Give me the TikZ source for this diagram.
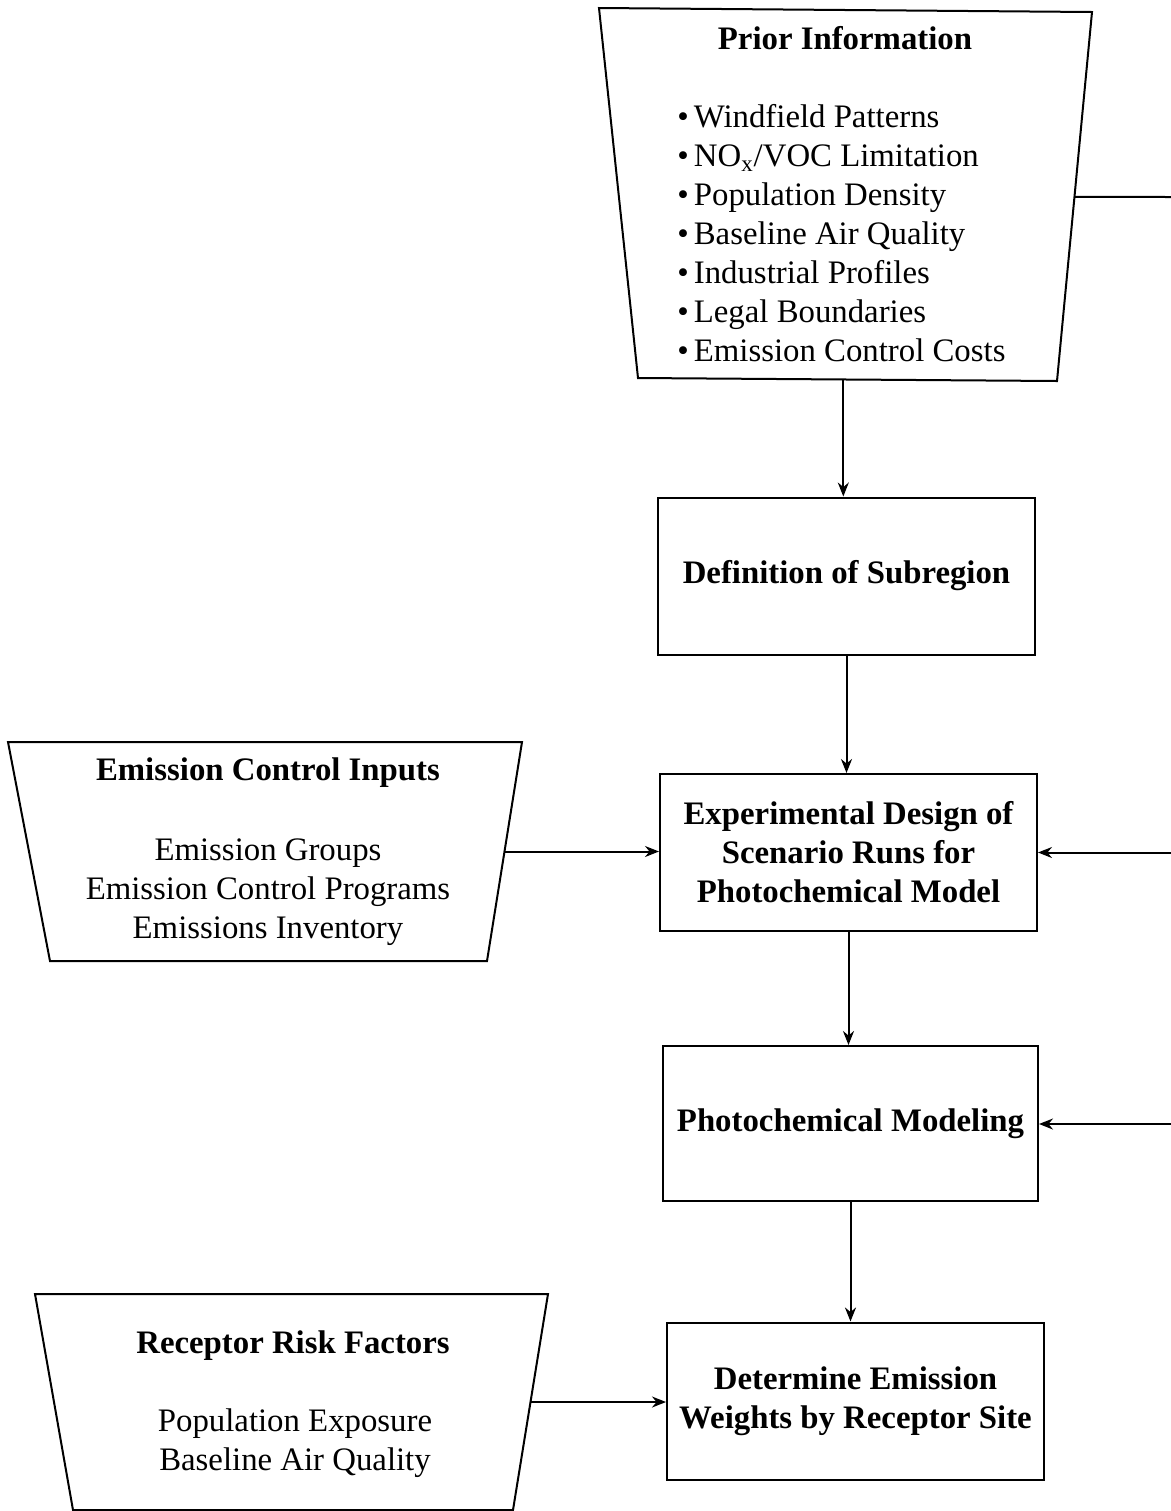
\documentclass[tikz,border=0pt]{standalone}
\usepackage{fontspec}
\setmainfont{Liberation Serif}
\usetikzlibrary{arrows.meta,calc}
\begin{document}
\begin{tikzpicture}[x=0.5pt,y=-0.5pt,
  line/.style={line width=1pt},
  arr/.style={line width=1pt,-{Stealth[length=7pt,width=5.5pt]}},
  box/.style={draw,line width=1pt,minimum width=188.5pt,minimum height=78.5pt,align=center,inner sep=0pt,font=\fontsize{16.4}{19.5}\selectfont\bfseries},
  ttl/.style={font=\fontsize{16.4}{19.5}\selectfont\bfseries,inner sep=0pt},
  body/.style={font=\fontsize{16.4}{19.5}\selectfont,align=center,inner sep=0pt},
  lst/.style={font=\fontsize{16.4}{19.5}\selectfont,align=left,inner sep=0pt}]
\useasboundingbox (0,0) rectangle (1171,1511);

% Prior Information trapezoid
\draw[line] (599,8) coordinate (p1) -- (1092,12) coordinate (p2) -- (1057,381) coordinate (p3) -- (638,378) coordinate (p4) -- cycle;
\coordinate (priorR) at ($(p2)!0.501!(p3)$);
\coordinate (priorB) at ($(p4)!0.49!(p3)$);
\node[ttl] (priorT) at (845,38) {Prior Information};
\node[lst,anchor=west] (priorL) at (677,233) {\textbullet\hspace{2.5pt}Windfield Patterns\\
\textbullet\hspace{2.5pt}NO\textsubscript{x}/VOC Limitation\\
\textbullet\hspace{2.5pt}Population Density\\
\textbullet\hspace{2.5pt}Baseline Air Quality\\
\textbullet\hspace{2.5pt}Industrial Profiles\\
\textbullet\hspace{2.5pt}Legal Boundaries\\
\textbullet\hspace{2.5pt}Emission Control Costs};

% Emission Control Inputs trapezoid
\draw[line] (8,742) coordinate (e1) -- (522,742) coordinate (e2) -- (487,961) coordinate (e3) -- (50,961) coordinate (e4) -- cycle;
\coordinate (emisR) at ($(e2)!0.5!(e3)$);
\node[ttl] (emisT) at (268,773) {Emission Control Inputs};
\node[body] (emisB) at (268,892.5) {Emission Groups\\Emission Control Programs\\Emissions Inventory};

% Receptor Risk Factors trapezoid
\draw[line] (35,1294) coordinate (r1) -- (548,1294) coordinate (r2) -- (513,1510) coordinate (r3) -- (73,1510) coordinate (r4) -- cycle;
\coordinate (recR) at ($(r2)!0.5!(r3)$);
\node[ttl] (recT) at (293,1346) {Receptor Risk Factors};
\node[body] (recB) at (295,1443.5) {Population Exposure\\Baseline Air Quality};

% Process boxes
\node[box] (def) at (846.5,576) {Definition of Subregion};
\node[box] (exp) at (848.5,852.5) {Experimental Design of\\Scenario Runs for\\Photochemical Model};
\node[box,minimum width=187.5pt,minimum height=77.5pt] (pho) at (850.5,1123.5) {Photochemical Modeling};
\node[box] (det) at (855.5,1401) {Determine Emission\\Weights by Receptor Site};

% Right-edge free ends
\coordinate (edge1) at (1171,197);
\coordinate (edge2) at (1171,852.5);
\coordinate (edge3) at (1171,1124);

% Connectors
\draw[line] (priorR) -- (edge1);
\draw[arr] (priorB) -- (priorB |- def.north);
\draw[arr] (def.south) -- (def.south |- exp.north);
\draw[arr] (exp.south) -- (exp.south |- pho.north);
\draw[arr] (pho.south) -- (pho.south |- det.north);
\draw[arr] (emisR) -- (emisR -| exp.west);
\draw[arr] (recR) -- (recR -| det.west);
\draw[arr] (edge2) -- (exp.east);
\draw[arr] (edge3) -- (edge3 -| pho.east);
\end{tikzpicture}
\end{document}
